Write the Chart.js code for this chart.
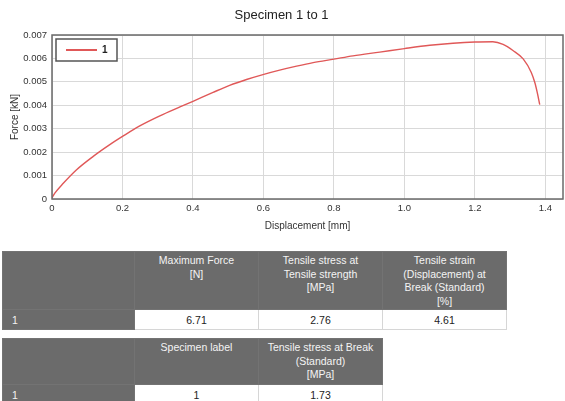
<!DOCTYPE html>
<html>
<head>
<meta charset="utf-8">
<script src="https://cdn.jsdelivr.net/npm/chart.js@4.4.0/dist/chart.umd.min.js"></script>
<style>
  body { margin: 0; background: #fff; font-family: "Liberation Sans", Arial, Helvetica, sans-serif; }
  #wrap { position: absolute; left: 0; top: 0; width: 565px; height: 240px; }
  table { position: absolute; left: 2px; border-collapse: collapse; table-layout: fixed; font-size: 10.5px; }
  th { background: #6b6b6b; color: #f4f4f4; font-weight: normal; vertical-align: top; line-height: 13.5px; padding: 2px 3px 0 3px; border: 1px solid #737373; text-align: center; }
  td { height: 19px; padding: 0 3px; border: 1px solid #d6d6d6; text-align: center; color: #222; }
  td.lab { background: #6b6b6b; color: #f4f4f4; text-align: left; padding-left: 9px; border-color: #737373; }
</style>
</head>
<body>
<div id="wrap"><canvas id="chart"></canvas></div>

<table id="t1" style="top:251px">
  <colgroup><col style="width:132px"><col style="width:124px"><col style="width:124px"><col style="width:124px"></colgroup>
  <tr style="height:58px"><th></th><th>Maximum Force<br>[N]</th><th>Tensile stress at<br>Tensile strength<br>[MPa]</th><th>Tensile strain<br>(Displacement) at<br>Break (Standard)<br>[%]</th></tr>
  <tr><td class="lab">1</td><td>6.71</td><td>2.76</td><td>4.61</td></tr>
</table>

<table id="t2" style="top:338px">
  <colgroup><col style="width:132px"><col style="width:124px"><col style="width:124px"></colgroup>
  <tr style="height:46px"><th></th><th>Specimen label</th><th>Tensile stress at Break<br>(Standard)<br>[MPa]</th></tr>
  <tr><td class="lab">1</td><td>1</td><td>1.73</td></tr>
</table>

<script>
// displacement [mm] and force [kN]
const displacement = [0, 0.008, 0.032, 0.069, 0.117, 0.164, 0.2, 0.249, 0.306, 0.363, 0.4,
  0.457, 0.504, 0.552, 0.601, 0.646, 0.694, 0.741, 0.8, 0.854, 0.93, 1.0, 1.072, 1.138,
  1.2, 1.251, 1.28, 1.308, 1.337, 1.36, 1.37, 1.377, 1.384];
const force = [0.00005, 0.00025, 0.00067, 0.00124, 0.00182, 0.00232, 0.00267, 0.00312, 0.00355, 0.00393, 0.00417,
  0.00455, 0.00485, 0.0051, 0.00532, 0.0055, 0.00567, 0.00582, 0.00597, 0.00611, 0.00627, 0.00642, 0.00656, 0.00665,
  0.0067, 0.00671, 0.0066, 0.00634, 0.00598, 0.0054, 0.00497, 0.00454, 0.00403];
const seriesLabel = "1";
const chartTitle = "Specimen 1 to 1";
const xTitle = "Displacement [mm]";
const yTitle = "Force [kN]";

const FONT = "'Liberation Sans', Arial, Helvetica, sans-serif";
const points = displacement.map((x, i) => ({ x: x, y: force[i] }));

// frame around plot area + legend box inside it
const framePlugin = {
  id: "frame",
  afterDatasetsDraw(chart) {
    const { ctx, chartArea: a } = chart;
    ctx.save();
    ctx.strokeStyle = "#6a6a6a";
    ctx.lineWidth = 1.5;
    ctx.strokeRect(a.left, a.top, a.right - a.left, a.bottom - a.top);

    const ds = chart.data.datasets[0];
    const bx = a.left + 4, by = a.top + 4, bw = 61, bh = 22;
    ctx.fillStyle = "#fff";
    ctx.fillRect(bx, by, bw, bh);
    ctx.strokeStyle = "#555";
    ctx.lineWidth = 1.5;
    ctx.strokeRect(bx, by, bw, bh);
    ctx.strokeStyle = ds.borderColor;
    ctx.lineWidth = 2;
    ctx.beginPath();
    ctx.moveTo(bx + 10, by + bh / 2);
    ctx.lineTo(bx + 41, by + bh / 2);
    ctx.stroke();
    ctx.fillStyle = "#222";
    ctx.font = "bold 10px " + FONT;
    ctx.textBaseline = "middle";
    ctx.fillText(ds.label, bx + 46, by + bh / 2 + 0.5);
    ctx.restore();
  }
};

new Chart(document.getElementById("chart"), {
  type: "scatter",
  data: {
    datasets: [{
      label: seriesLabel,
      data: points,
      showLine: true,
      borderColor: "#e05858",
      borderWidth: 1.4,
      pointRadius: 0,
      cubicInterpolationMode: "monotone"
    }]
  },
  options: {
    responsive: true,
    maintainAspectRatio: false,
    animation: false,
    layout: { padding: { left: 0, right: 2, top: 0, bottom: 0 } },
    plugins: {
      legend: { display: false },
      tooltip: { enabled: false },
      title: {
        display: true,
        text: chartTitle,
        color: "#222",
        font: { family: FONT, size: 13, weight: "normal" },
        padding: { top: 8, bottom: 11.4 }
      }
    },
    scales: {
      x: {
        type: "linear",
        min: 0,
        max: 1.45,
        afterFit(scale) { scale.height = 41; },
        border: { display: false },
        grid: { color: "#d9d9d9", lineWidth: 1, drawTicks: false },
        ticks: {
          stepSize: 0.2,
          includeBounds: false,
          padding: 4,
          color: "#333",
          font: { family: FONT, size: 9.5 }
        },
        title: {
          display: true,
          text: xTitle,
          color: "#333",
          font: { family: FONT, size: 10 },
          padding: { top: 0, bottom: 8 }
        }
      },
      y: {
        min: 0,
        max: 0.007,
        afterFit(scale) { scale.width = 52; },
        border: { display: false },
        grid: { color: "#d9d9d9", lineWidth: 1, drawTicks: false },
        ticks: {
          stepSize: 0.001,
          padding: 5,
          color: "#333",
          font: { family: FONT, size: 9.5 }
        },
        title: {
          display: true,
          text: yTitle,
          color: "#333",
          font: { family: FONT, size: 10 },
          padding: { top: 9, bottom: 0 }
        }
      }
    }
  },
  plugins: [framePlugin]
});
</script>
</body>
</html>
